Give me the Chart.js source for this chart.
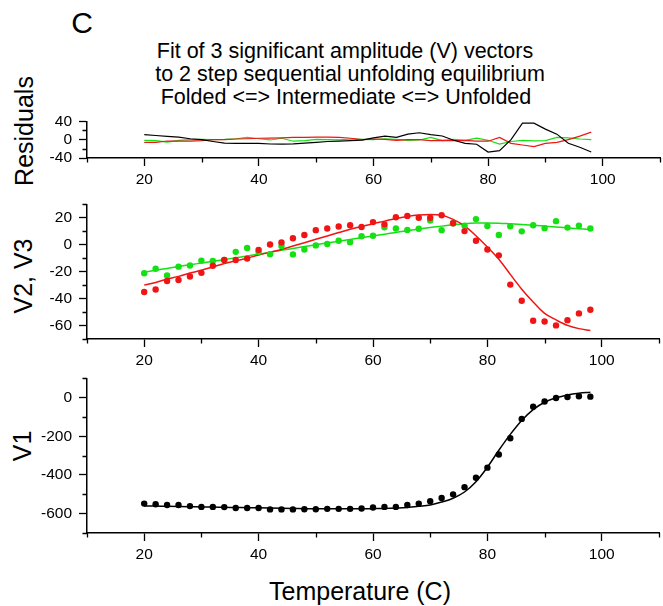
<!DOCTYPE html>
<html lang="en">
<head>
    <meta charset="UTF-8">
    <title>Fit of 3 significant amplitude vectors</title>
    <script src="https://cdn.jsdelivr.net/npm/chart.js"></script>
    <style>
        body {
            margin: 0;
            background: #fff;
            font-family: "Liberation Sans", Arial, sans-serif;
        }
        .page {
            position: relative;
            width: 663px;
            height: 606px;
            overflow: hidden;
        }
        canvas {
            position: absolute;
            left: 0;
        }
        .txt {
            position: absolute;
            line-height: 1;
            white-space: pre;
            color: #000;
            transform: translate(-50%, -50%);
        }
        .rot {
            transform: translate(-50%, -50%) rotate(-90deg);
        }
    </style>
</head>
<body>
<div class="page">
    <div class="txt" style="left:82px; top:23px; font-size:30px;">C</div>
    <div class="txt" style="left:345px; top:52px; font-size:21.5px;">Fit of 3 significant amplitude (V) vectors</div>
    <div class="txt" style="left:347px; top:75px; font-size:21.5px;"> to 2 step sequential unfolding equilibrium</div>
    <div class="txt" style="left:346px; top:97.5px; font-size:21.5px;">Folded &lt;=&gt; Intermediate &lt;=&gt; Unfolded</div>
    <div class="txt rot" style="left:24px; top:131px; font-size:25px;">Residuals</div>
    <div class="txt rot" style="left:23px; top:276px; font-size:25px;">V2, V3</div>
    <div class="txt rot" style="left:22px; top:446px; font-size:25px;">V1</div>
    <div class="txt" style="left:360px; top:591px; font-size:25px;">Temperature (C)</div>

    <canvas id="resChart" width="663" height="93" style="top:105px"></canvas>
    <canvas id="v23Chart" width="663" height="191" style="top:188px"></canvas>
    <canvas id="v1Chart" width="663" height="211" style="top:362px"></canvas>
</div>

<script>
    // temperatures (C)
    const temps = [20, 22, 24, 26, 28, 30, 32, 34, 36, 38, 40, 42, 44, 46, 48, 50, 52, 54, 56, 58,
                   60, 62, 64, 66, 68, 70, 72, 74, 76, 78, 80, 82, 84, 86, 88, 90, 92, 94, 96, 98];

    // measured amplitudes
    const v1Data = [-548, -551, -555, -555, -561, -565, -565, -566, -571, -571, -571, -578, -578, -578, -577, -577, -575, -575, -575, -573,
                    -568, -565, -565, -555, -548, -536, -519, -500, -463, -414, -362, -294, -210, -110, -47, -20, -2, 3, 7, 5];
    const v2Data = [-35.1, -33.2, -26.9, -26.2, -23.6, -20.9, -15.6, -11.3, -11.3, -10.3, -3.8, 0.2, 1.7, 4.8, 7.2, 10.8, 12, 13.5, 14.4, 13.2,
                    16.8, 15.1, 20.4, 21.4, 20, 20, 21.9, 15.9, 10.1, 2.9, -3.6, -7.9, -29.6, -41.6, -56.5, -57, -59.9, -56, -51, -48.3];
    const v3Data = [-21.2, -17.8, -22.8, -16.3, -15.4, -11.8, -12, -11.3, -5.3, -2.4, -5.5, -7, -1, -7.2, -3.6, -0.5, 0.5, 2.9, 1.9, 6.3,
                    6.7, 13, 12, 11, 11.8, 18, 10.8, 15.9, 14.2, 19, 13.9, 7.2, 13.7, 9.9, 14.4, 12.3, 17.5, 12.7, 14.2, 12];

    // fitted curves
    const v1Fit = [-560, -561, -562, -563, -564, -565, -566, -567, -568, -569, -570, -571, -572, -573, -574, -575, -575, -575, -575, -575,
                   -574, -573, -571, -568, -562, -555, -540, -520, -488, -435, -360, -272, -190, -118, -62, -24, -1, 14, 23, 28];
    const v2Fit = [-30, -28, -25.5, -23.5, -21, -19, -16.5, -14, -12, -10, -7.7, -5.5, -3.5, -1, 1.5, 4, 6.5, 9, 11.5, 13.5,
                   15.6, 17.5, 19.5, 21, 22, 22.4, 21.9, 18.8, 14, 6.7, -1.7, -10.8, -22, -33, -42.5, -51, -55.8, -59.9, -62.3, -63.7];
    const v3Fit = [-20.4, -19, -17.6, -16.2, -14.9, -13.6, -12.3, -11, -9.7, -8.4, -7, -5.6, -4.2, -2.8, -1.4, 0, 1.3, 2.6, 3.9, 5.2,
                   6.5, 7.8, 9.1, 10.4, 11.6, 12.7, 13.8, 14.8, 15.6, 16.1, 16.2, 16, 15.5, 15, 14.4, 13.8, 13.2, 12.5, 11.8, 11.2];

    // residuals (data - fit)
    const res1 = [11, 9, 7, 5.5, 2, 0, -4, -7.5, -8, -8, -8, -9.5, -9.7, -9, -7.5, -6, -4, -3, -2, -1,
                  4, 7.6, 5, 12, 15, 11, 8, -1.4, -8, -10, -27, -24, 0, 36, 36, 23, 12, -8, -16.5, -27];
    const res2 = [-6, -6, -3, -3.4, -3, -2, 0, 0, 1.4, 2, 3, 3.5, 4, 5, 5, 5.5, 5.5, 5, 3, 0,
                  1.4, 0.7, -1.4, 0, 0, -2, -1.4, -2, -1.4, -3.4, -3.4, 5, -8, -11.7, -15, -8, -6, 0, 7.6, 16.5];
    const res3 = [-1.4, -2, -5.5, -1.4, 0, 0.7, 0, 0.7, 2, 5, 2, -0.7, 3, -3.4, -2, 0.7, 0, -0.7, 1.4, 0.7,
                  0, 2, 0.7, -1.4, -0.7, 5, -2, 0.7, -1.4, 3.4, -1.4, -9.7, -4, -1.4, -2.8, -2, 5, 4, 1.4, 0];

    // axis ticks
    const xMajor = [20, 40, 60, 80, 100];
    const xMinor = [10, 30, 50, 70, 90, 110];
    const resMajor = [-40, 0, 40];
    const resMinor = [-20, 20];
    const v23Major = [-60, -40, -20, 0, 20];
    const v23Minor = [-70, -50, -30, -10, 10, 30];
    const v1Major = [-600, -400, -200, 0];
    const v1Minor = [-700, -500, -300, -100, 100];

    const RED = '#f01414';
    const GREEN = '#14e014';
    const BLACK = '#000000';
    const FONT = "'Liberation Sans', Arial, sans-serif";

    const pts = (ys) => temps.map((t, i) => ({ x: t, y: ys[i] }));

    // short minor tick marks on both axes
    const minorTicks = {
        id: 'minorTicks',
        afterDraw(chart, args, opts) {
            const ctx = chart.ctx;
            const xs = chart.scales.x, ys = chart.scales.y;
            ctx.save();
            ctx.strokeStyle = '#000';
            ctx.lineWidth = 1.3;
            ctx.beginPath();
            opts.x.forEach(v => {
                const px = Math.round(xs.getPixelForValue(v)) + 0.5;
                ctx.moveTo(px, xs.top);
                ctx.lineTo(px, xs.top + 4.5);
            });
            opts.y.forEach(v => {
                const py = Math.round(ys.getPixelForValue(v)) + 0.5;
                ctx.moveTo(ys.right, py);
                ctx.lineTo(ys.right - 4.5, py);
            });
            ctx.stroke();
            ctx.restore();
        }
    };

    function axisOptions(ymin, ymax, yMajor, yMinor) {
        return {
            animation: false,
            responsive: false,
            events: [],
            layout: { padding: { top: 12, right: 3, left: 0, bottom: 0 } },
            plugins: {
                legend: { display: false },
                tooltip: { enabled: false },
                minorTicks: { x: xMinor, y: yMinor }
            },
            scales: {
                x: {
                    type: 'linear',
                    min: 10,
                    max: 110,
                    afterBuildTicks: (axis) => { axis.ticks = xMajor.map(v => ({ value: v })); },
                    afterFit: (axis) => { axis.height = 40; },
                    grid: { drawOnChartArea: false, tickLength: 8, tickColor: '#000', tickWidth: 1.3 },
                    border: { color: '#000', width: 1.5 },
                    ticks: { color: '#000', padding: 4, maxRotation: 0, autoSkip: false, font: { family: FONT, size: 15.5 } }
                },
                y: {
                    type: 'linear',
                    min: ymin,
                    max: ymax,
                    afterBuildTicks: (axis) => { axis.ticks = yMajor.map(v => ({ value: v })); },
                    afterFit: (axis) => { axis.width = 87; },
                    grid: { drawOnChartArea: false, tickLength: 8, tickColor: '#000', tickWidth: 1.3 },
                    border: { color: '#000', width: 1.5 },
                    ticks: { color: '#000', padding: 7, autoSkip: false, font: { family: FONT, size: 15.5 } }
                }
            }
        };
    }

    function dots(data, color) {
        return { data: pts(data), showLine: false, pointRadius: 3.2, pointBorderWidth: 0,
                 pointBackgroundColor: color, borderColor: color };
    }
    function curve(data, color, width, smooth) {
        return { data: pts(data), showLine: true, pointRadius: 0, borderColor: color, borderWidth: width,
                 tension: smooth ? 0.4 : 0, cubicInterpolationMode: smooth ? 'monotone' : 'default' };
    }

    const resChart = new Chart(document.getElementById('resChart'), {
        type: 'scatter',
        data: { datasets: [
            curve(res1, BLACK, 1.2, false),
            curve(res2, RED, 1.2, false),
            curve(res3, GREEN, 1.2, false)
        ] },
        options: axisOptions(-40, 40, resMajor, resMinor),
        plugins: [minorTicks]
    });

    const v23Chart = new Chart(document.getElementById('v23Chart'), {
        type: 'scatter',
        data: { datasets: [
            dots(v2Data, RED),
            dots(v3Data, GREEN),
            curve(v2Fit, RED, 1.5, true),
            curve(v3Fit, GREEN, 1.5, true)
        ] },
        options: axisOptions(-70, 30, v23Major, v23Minor),
        plugins: [minorTicks]
    });

    const v1Chart = new Chart(document.getElementById('v1Chart'), {
        type: 'scatter',
        data: { datasets: [
            dots(v1Data, BLACK),
            curve(v1Fit, BLACK, 1.5, true)
        ] },
        options: axisOptions(-700, 100, v1Major, v1Minor),
        plugins: [minorTicks]
    });
</script>
</body>
</html>
